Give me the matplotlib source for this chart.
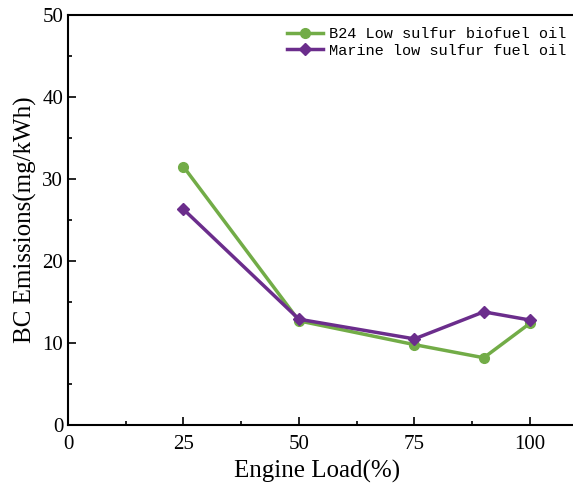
import matplotlib
matplotlib.use("Agg")
import matplotlib.pyplot as plt
from matplotlib.ticker import MultipleLocator

load = [25, 50, 75, 90, 100]
b24_bc = [31.5, 12.7, 9.8, 8.2, 12.4]
marine_bc = [26.3, 12.9, 10.5, 13.8, 12.8]

plt.rcParams['font.family'] = ['Liberation Serif']

fig = plt.figure(figsize=(5.73, 4.91), dpi=100)
# the right spine sits just outside the picture, as in the cropped original
ax = fig.add_axes([68 / 573, 66 / 491, (590 - 68) / 573, 410 / 491])

ax.plot(load, b24_bc, color='#72ac47', marker='o', markersize=7, linewidth=2.5,
        label='B24 Low sulfur biofuel oil')
ax.plot(load, marine_bc, color='#6b2d8c', marker='D', markersize=6.5, linewidth=2.5,
        label='Marine low sulfur fuel oil')

ax.set_xlim(0, 113.0)
ax.set_ylim(0, 50)
ax.set_xticks([0, 25, 50, 75, 100])
ax.xaxis.set_minor_locator(MultipleLocator(12.5))
ax.yaxis.set_minor_locator(MultipleLocator(5))
ax.tick_params(which='both', direction='in', labelsize=15, width=1.2)
ax.tick_params(which='major', length=6)
ax.tick_params(which='minor', length=3)
ax.tick_params(axis='x', pad=7)
for s in ax.spines.values():
    s.set_linewidth(1.5)

ax.set_xlabel('Engine Load(%)', fontsize=18)
ax.xaxis.set_label_coords((317 - 68) / (590 - 68), -0.085)
ax.set_ylabel('BC Emissions(mg/kWh)', fontsize=18, labelpad=4)

ax.legend(loc='upper right', frameon=False, prop={'family': 'Liberation Mono', 'size': 11},
          handlelength=2.3, handletextpad=0.4, borderaxespad=0.0, labelspacing=0.15,
          bbox_to_anchor=((572 - 68) / (590 - 68), 0.985))

fig.savefig('out.png', dpi=100)
